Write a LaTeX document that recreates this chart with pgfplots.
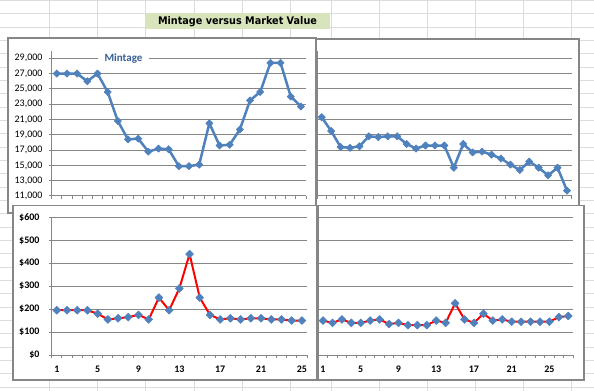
\documentclass[border=0pt]{standalone}
\usepackage{fontspec}
\setmainfont{Carlito}
\newfontfamily\titlefont{DejaVu Sans}
\usepackage{pgfplots}
\pgfplotsset{compat=1.18}
\definecolor{xlgrid}{RGB}{218,220,221}
\definecolor{chgray}{RGB}{134,134,134}
\definecolor{serblue}{RGB}{79,129,189}
\definecolor{titlegreen}{RGB}{216,228,188}
\definecolor{mintblue}{RGB}{54,96,146}
\pgfplotsset{
  panel/.style={
    scale only axis,
    axis lines*=left,
    axis line style={chgray, line width=1bp},
    ymajorgrids,
    major grid style={chgray, line width=1bp},
    tick style={chgray, line width=1bp},
    tick align=outside,
    major tick length=3bp,
    minor tick length=3bp,
    xtick pos=bottom, ytick pos=left,
    scaled y ticks=false, scaled x ticks=false,
    clip=false,
    /pgf/number format/assume math mode=true,
    tick label style={font=\fontsize{10bp}{12bp}\selectfont, text=black},
  },
  topser/.style={serblue, line width=2.5bp, line join=round, mark=square*, mark size=2.6bp,
    mark options={rotate=45, fill=serblue, draw=serblue, line width=0.5bp}},
  botser/.style={red, line width=2bp, line join=round, mark=square*, mark size=2.8bp,
    mark options={rotate=45, fill=serblue, draw=serblue, line width=0.5bp}},
}
\begin{document}
\begin{tikzpicture}
\path[use as bounding box, fill=white] (0,0) rectangle (594bp,391bp);
% Excel sheet grid
\foreach \x in {49,97,145.5,194,242,290,331,379,427,475,523,571}
  \draw[xlgrid, line width=1bp] (\x bp,0) -- (\x bp,391bp);
\foreach \k in {0,...,29}{
  \pgfmathsetmacro\yy{391-0.67-13.33*\k}
  \draw[xlgrid, line width=1bp] (0,\yy bp) -- (594bp,\yy bp);
}
% title cell
\fill[titlegreen] (145bp,361.7bp) rectangle (330bp,377.7bp);
\node at (237.5bp,369.7bp) {\scalebox{0.92}[1]{\titlefont\bfseries\fontsize{10.5bp}{12bp}\selectfont Mintage versus Market Value}};

% ---------- top-right panel ----------
\filldraw[fill=white, draw=chgray, line width=1.2bp] (316.7bp,185.5bp) rectangle (579bp,352bp);
\begin{axis}[panel, at={(317bp,195bp)}, anchor=south west, width=254.7bp, height=145.35bp,
  xmin=0.5, xmax=27.5, ymin=11000, ymax=30000,
  ytick={11000,13000,...,29000}, yticklabels={},
  xtick={0.5,1.5,...,27.5}, xticklabels={}]
\addplot[topser] coordinates {(1,21300)(2,19500)(3,17400)(4,17300)(5,17500)(6,18800)(7,18700)(8,18800)(9,18800)(10,17800)(11,17200)(12,17600)(13,17600)(14,17600)(15,14700)(16,17800)(17,16700)(18,16800)(19,16400)(20,15900)(21,15100)(22,14400)(23,15500)(24,14700)(25,13700)(26,14700)(27,11700)};
\end{axis}

% ---------- top-left panel ----------
\filldraw[fill=white, draw=chgray, line width=1.2bp] (8bp,178bp) rectangle (316bp,353bp);
\begin{axis}[panel, at={(51.7bp,195bp)}, anchor=south west, width=254.3bp, height=145.35bp,
  xmin=0.5, xmax=25.5, ymin=11000, ymax=30000,
  ytick={11000,13000,...,29000},
  yticklabels={{11,000},{13,000},{15,000},{17,000},{19,000},{21,000},{23,000},{25,000},{27,000},{29,000}},
  yticklabel style={anchor=east, inner xsep=0pt, xshift=-6bp},
  xtick={0.5,1.5,...,25.5}, xticklabels={}]
\addplot[topser] coordinates {(1,27000)(2,27000)(3,27000)(4,26000)(5,27000)(6,24600)(7,20800)(8,18400)(9,18500)(10,16800)(11,17200)(12,17100)(13,14900)(14,14900)(15,15100)(16,20500)(17,17600)(18,17700)(19,19700)(20,23500)(21,24600)(22,28400)(23,28400)(24,24000)(25,22700)};
\node[fill=white, inner xsep=7bp, inner ysep=1bp, text=mintblue, font=\bfseries\fontsize{11bp}{13bp}\selectfont] at (rel axis cs:0.2823,0.947) {Mintage};
\end{axis}

% ---------- bottom-right panel ----------
\filldraw[fill=white, draw=chgray, line width=1.2bp] (318.3bp,11bp) rectangle (584bp,185.3bp);
\begin{axis}[panel, at={(318.3bp,36bp)}, anchor=south west, width=254.7bp, height=137.7bp,
  xmin=0.5, xmax=27.5, ymin=0, ymax=600,
  ytick={0,100,...,600}, yticklabels={},
  xtick={1,5,...,25}, major x tick style={draw=none},
  xticklabel style={anchor=north, inner sep=0pt, yshift=-8bp, font=\bfseries\fontsize{10bp}{12bp}\selectfont},
  minor xtick={0.5,1.5,...,27.5}]
\addplot[botser] coordinates {(1,150)(2,140)(3,155)(4,140)(5,140)(6,150)(7,155)(8,135)(9,140)(10,130)(11,130)(12,130)(13,150)(14,140)(15,225)(16,155)(17,140)(18,180)(19,150)(20,155)(21,145)(22,145)(23,145)(24,145)(25,145)(26,165)(27,170)};
\end{axis}

% ---------- bottom-left panel ----------
\filldraw[fill=white, draw=chgray, line width=1.2bp] (13bp,11bp) rectangle (317bp,185.3bp);
\begin{axis}[panel, at={(51.7bp,36bp)}, anchor=south west, width=255.3bp, height=137.7bp,
  xmin=0.5, xmax=25.5, ymin=0, ymax=600,
  ytick={0,100,...,600},
  yticklabels={\$0,\$100,\$200,\$300,\$400,\$500,\$600},
  yticklabel style={anchor=east, inner xsep=0pt, xshift=-9bp, font=\bfseries\fontsize{10bp}{12bp}\selectfont},
  xtick={1,5,...,25}, major x tick style={draw=none},
  xticklabel style={anchor=north, inner sep=0pt, yshift=-8bp, font=\bfseries\fontsize{10bp}{12bp}\selectfont},
  minor xtick={0.5,1.5,...,25.5}]
\addplot[botser] coordinates {(1,195)(2,195)(3,195)(4,195)(5,180)(6,155)(7,160)(8,165)(9,175)(10,155)(11,250)(12,195)(13,290)(14,440)(15,250)(16,175)(17,155)(18,160)(19,155)(20,160)(21,160)(22,155)(23,155)(24,150)(25,150)};
\end{axis}
\end{tikzpicture}
\end{document}
